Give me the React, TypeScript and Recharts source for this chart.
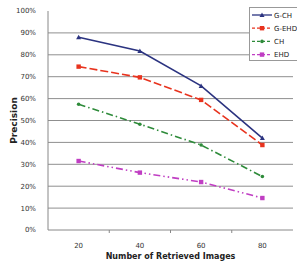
import React from 'react';
import { LineChart, Line, XAxis, YAxis, ReferenceLine, Label } from 'recharts';

const categories = [20, 40, 60, 80];
const gCH = [88, 81.7, 65.8, 42];
const gEHD = [74.6, 69.7, 59.4, 38.8];
const ch = [57.4, 48.3, 38.8, 24.4];
const ehd = [31.5, 26.2, 21.9, 14.6];
const yTicks = [0, 10, 20, 30, 40, 50, 60, 70, 80, 90, 100];
const gridValues = [10, 20, 30, 40, 50, 60, 70, 80, 90];

const data = categories.map((c, i) => ({
  n: c,
  gch: gCH[i],
  gehd: gEHD[i],
  ch: ch[i],
  ehd: ehd[i],
}));

const FONT = '"DejaVu Sans", Verdana, sans-serif';
const W = 297;
const H = 267;
const Y_AXIS_W = 48;
const MARGIN = { top: 11, right: 4, left: 0, bottom: 0 };
const HALF_BAND = (W - Y_AXIS_W - MARGIN.right) / categories.length / 2;

const SERIES = [
  { key: 'gch', name: 'G-CH', color: '#2B3380', dash: undefined, marker: 'tri' },
  { key: 'gehd', name: 'G-EHD', color: '#E8331E', dash: '8 3', marker: 'sq' },
  { key: 'ch', name: 'CH', color: '#2E8B3A', dash: '7 3 1.5 3', marker: 'dot' },
  { key: 'ehd', name: 'EHD', color: '#C03EC3', dash: '7 3 1.5 3 1.5 3', marker: 'sq' },
];

const Marker = ({ cx, cy, color, kind }: any) => {
  if (cx == null || cy == null) return null;
  if (kind === 'tri') {
    return <polygon points={`${cx},${cy - 2.5} ${cx - 2.5},${cy + 2} ${cx + 2.5},${cy + 2}`} fill={color} />;
  }
  if (kind === 'sq') {
    return <rect x={cx - 2.2} y={cy - 2.2} width={4.4} height={4.4} fill={color} />;
  }
  return <circle cx={cx} cy={cy} r={1.8} fill={color} />;
};

// category labels plus Excel-style tick marks on the band boundaries
const XTick = ({ x, y, payload, index }: any) => (
  <g>
    {index < categories.length - 1 && (
      <line x1={x + HALF_BAND} x2={x + HALF_BAND} y1={y - 8} y2={y - 5} stroke="#888" />
    )}
    <text x={x} y={y + 10} textAnchor="middle" fontSize={7} fill="#333" fontFamily={FONT}>
      {payload.value}
    </text>
  </g>
);

const LegendBox = () => (
  <div
    style={{
      position: 'absolute',
      left: 249,
      top: 7,
      width: 50,
      height: 54,
      border: '1px solid #999',
      background: '#fff',
      boxSizing: 'border-box',
    }}
  >
    <svg width={50} height={54}>
      {SERIES.map((s, i) => {
        const y = 7 + i * 13.2;
        return (
          <g key={s.key}>
            <line x1={2} x2={22} y1={y} y2={y} stroke={s.color} strokeWidth={1.3} strokeDasharray={s.dash ? '3 2' : undefined} />
            <Marker cx={12} cy={y} color={s.color} kind={s.marker} />
            <text x={24} y={y + 2.5} fontSize={7} fill="#222" fontFamily={FONT}>
              {s.name}
            </text>
          </g>
        );
      })}
    </svg>
  </div>
);

export default function App() {
  return (
    <div style={{ position: 'absolute', left: 0, top: 0, width: W, height: H, background: '#fff' }}>
      <LineChart width={W} height={H} data={data} margin={MARGIN}>
        {gridValues.map(v => (
          <ReferenceLine key={v} y={v} stroke="#8f8f8f" strokeWidth={1} />
        ))}
        <XAxis
          dataKey="n"
          scale="band"
          height={37}
          axisLine={{ stroke: '#888' }}
          tickLine={false}
          tick={<XTick />}
          interval={0}
        >
          <Label
            value="Number of Retrieved Images"
            position="insideBottom"
            offset={8}
            style={{ fontSize: 8, fontWeight: 'bold', fill: '#222', fontFamily: FONT }}
          />
        </XAxis>
        <YAxis
          domain={[0, 100]}
          ticks={yTicks}
          interval={0}
          width={Y_AXIS_W}
          axisLine={{ stroke: '#888' }}
          tickLine={false}
          tickMargin={6}
          tickFormatter={(v: number) => `${v}%`}
          tick={{ fontSize: 7, fill: '#333', fontFamily: FONT }}
        >
          <Label
            value="Precision"
            angle={-90}
            position="insideLeft"
            offset={14}
            style={{ fontSize: 9, fontWeight: 'bold', fill: '#222', fontFamily: FONT, textAnchor: 'middle' }}
          />
        </YAxis>
        {SERIES.map(s => (
          <Line
            key={s.key}
            dataKey={s.key}
            name={s.name}
            type="linear"
            stroke={s.color}
            strokeWidth={1.6}
            strokeDasharray={s.dash}
            dot={(p: any) => <Marker key={`${s.key}-${p.index}`} cx={p.cx} cy={p.cy} color={s.color} kind={s.marker} />}
            activeDot={false}
            isAnimationActive={false}
          />
        ))}
      </LineChart>
      <LegendBox />
    </div>
  );
}
